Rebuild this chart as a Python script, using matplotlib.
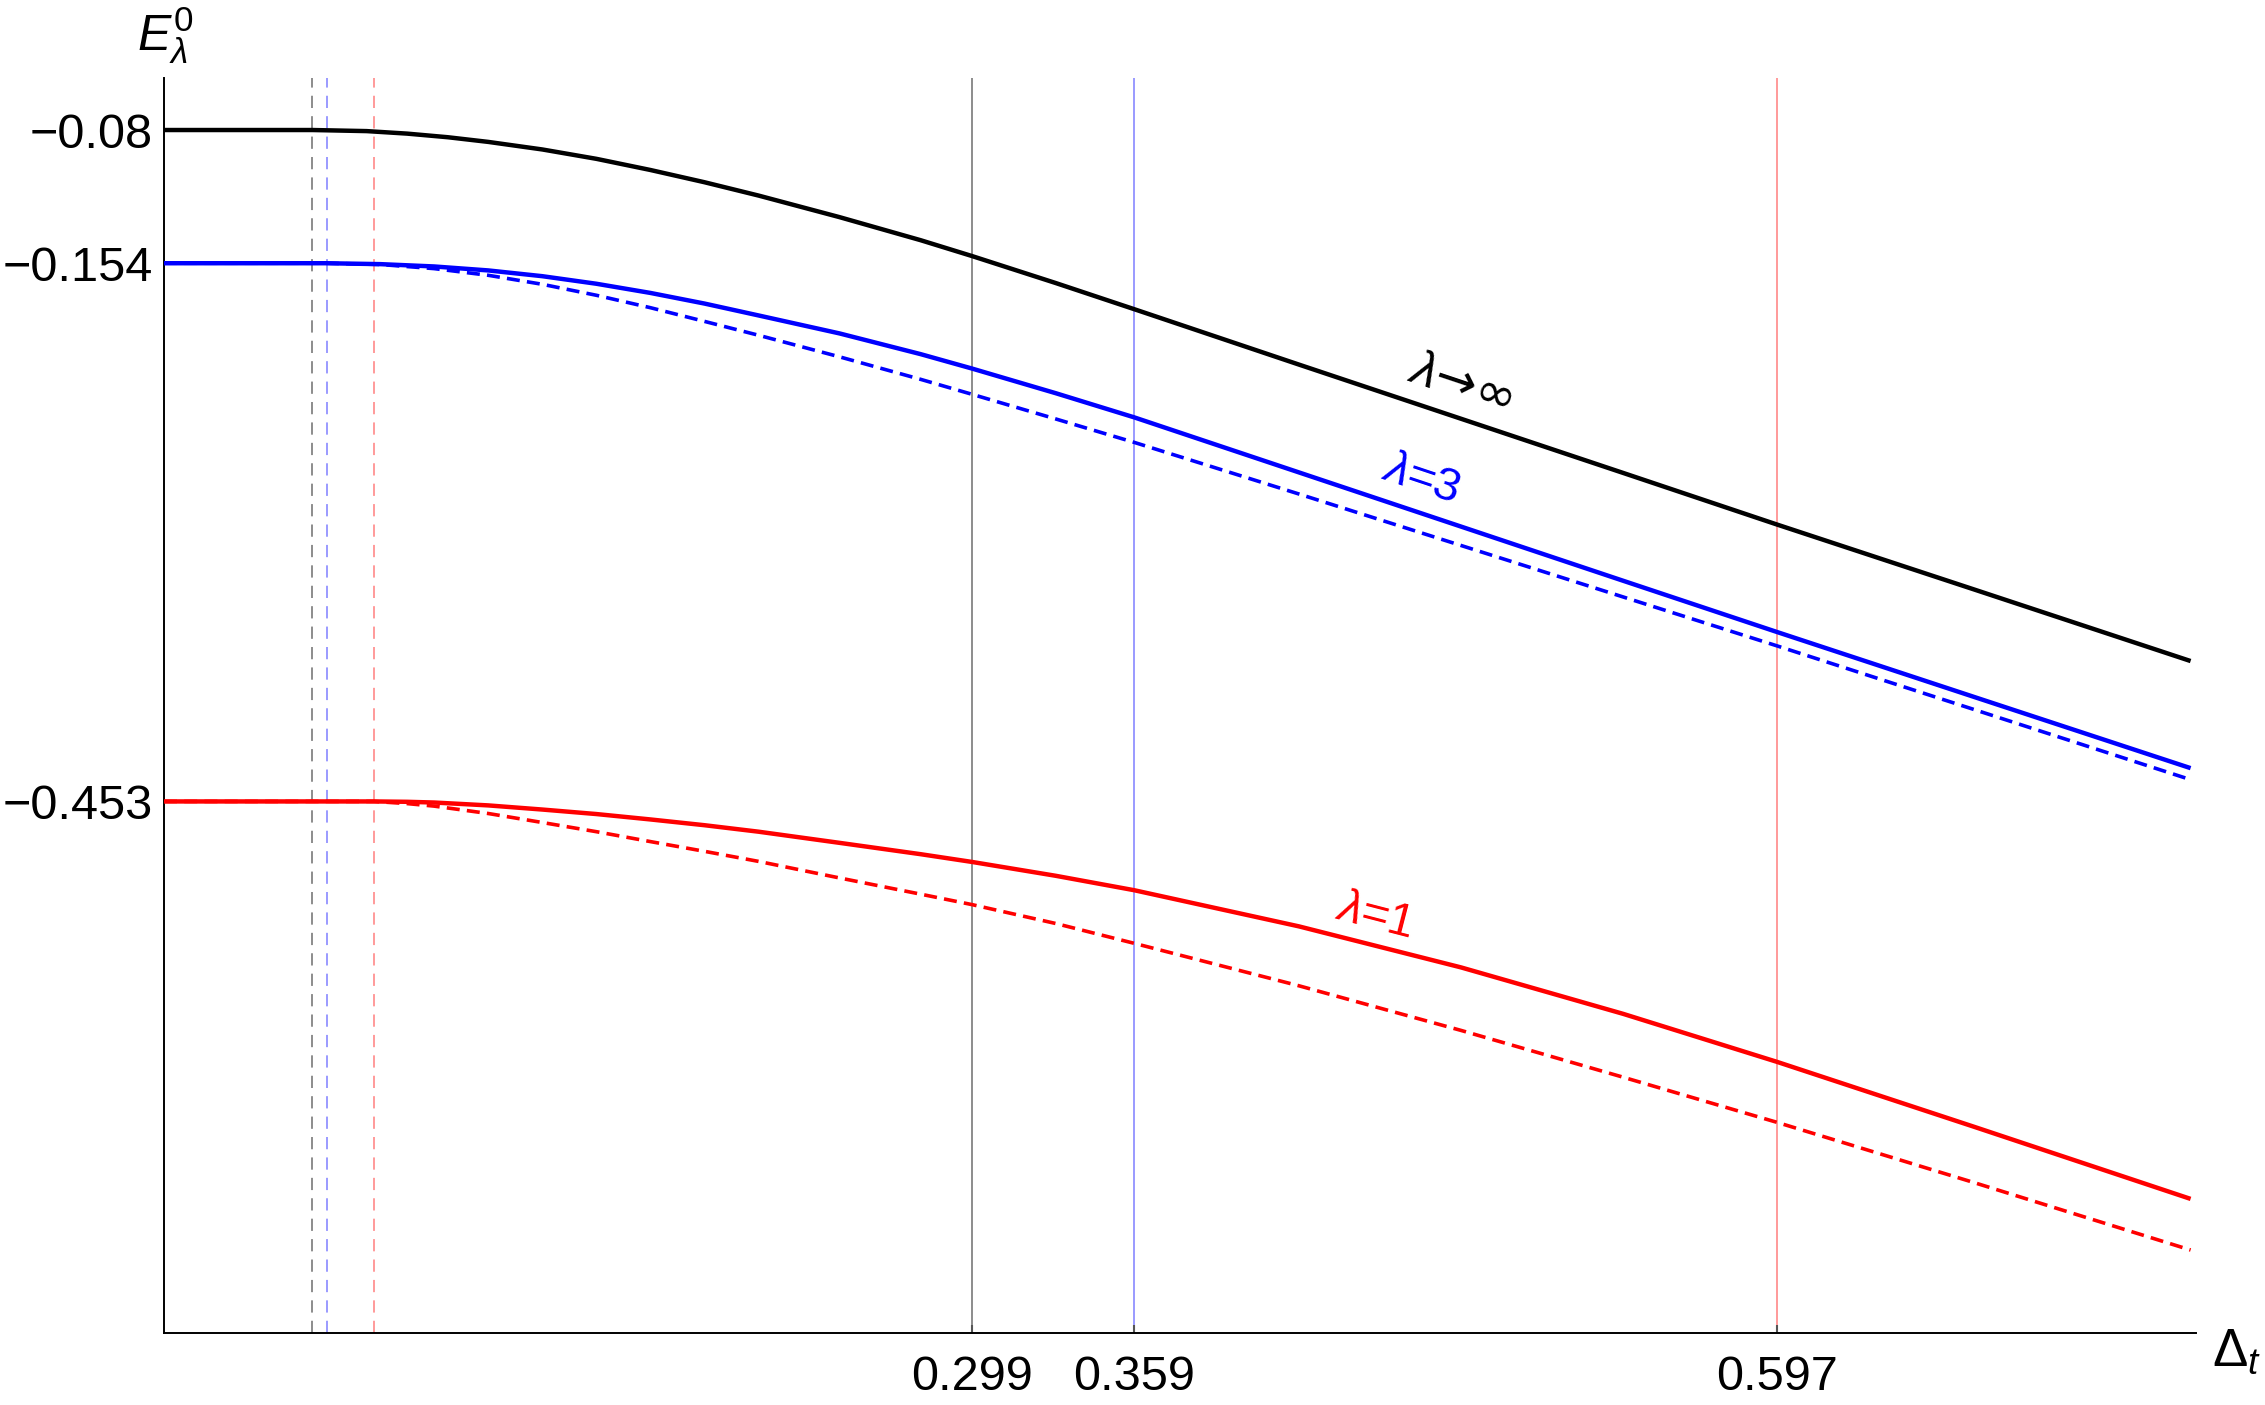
import matplotlib
matplotlib.use('Agg')
import matplotlib.pyplot as plt

plt.rcParams['font.family'] = ['Liberation Sans', 'DejaVu Sans']
plt.rcParams['mathtext.fontset'] = 'custom'
plt.rcParams['mathtext.rm'] = 'Liberation Sans'
plt.rcParams['mathtext.it'] = 'Liberation Sans:italic'
plt.rcParams['mathtext.bf'] = 'Liberation Sans:bold'

# ---------------- data ----------------
# lambda -> infinity (black, solid)
inf_x = [0.0, 0.055, 0.075, 0.09, 0.105, 0.12, 0.14, 0.16, 0.18, 0.20, 0.22, 0.25, 0.28, 0.299,
         0.33, 0.359, 0.42, 0.48, 0.54, 0.597, 0.67, 0.75]
inf_y = [-0.0800, -0.0800, -0.0806, -0.0820, -0.0840, -0.0866, -0.0908, -0.0960, -0.1022, -0.1090,
         -0.1164, -0.1284, -0.1412, -0.1500, -0.1650, -0.1795, -0.2103, -0.2404, -0.2705, -0.2992,
         -0.3353, -0.3750]

# lambda = 3 (blue): solid and dashed
l3_x = [0.0, 0.06, 0.08, 0.10, 0.12, 0.14, 0.16, 0.18, 0.20, 0.22, 0.25, 0.28, 0.299, 0.33, 0.359,
        0.42, 0.48, 0.54, 0.597, 0.67, 0.75]
l3_solid = [-0.1540, -0.1540, -0.1545, -0.1558, -0.1580, -0.1612, -0.1654, -0.1705, -0.1764, -0.1830,
            -0.1930, -0.2045, -0.2125, -0.2262, -0.2396, -0.2702, -0.3003, -0.3304, -0.3589, -0.3950,
            -0.4345]
l3_dashed = [-0.1540, -0.1540, -0.1547, -0.1570, -0.1607, -0.1657, -0.1718, -0.1787, -0.1863, -0.1940,
             -0.2060, -0.2185, -0.2268, -0.2405, -0.2535, -0.2822, -0.3108, -0.3394, -0.3666, -0.4020,
             -0.4409]

# lambda = 1 (red): solid and dashed
l1_x = [0.0, 0.0778, 0.09, 0.10, 0.12, 0.14, 0.16, 0.18, 0.20, 0.22, 0.25, 0.28, 0.299, 0.33, 0.359,
        0.42, 0.48, 0.54, 0.597, 0.67, 0.75]
l1_solid = [-0.4530, -0.4530, -0.4532, -0.4536, -0.4552, -0.4575, -0.4600, -0.4630, -0.4662, -0.4698,
            -0.4760, -0.4823, -0.4866, -0.4943, -0.5023, -0.5224, -0.5452, -0.5710, -0.5977, -0.6338,
            -0.6738]
l1_dashed = [-0.4530, -0.4530, -0.4542, -0.4556, -0.4597, -0.4647, -0.4698, -0.4753, -0.4807, -0.4863,
             -0.4955, -0.5045, -0.5103, -0.5208, -0.5318, -0.5554, -0.5802, -0.6062, -0.6313, -0.6648,
             -0.7022]

# critical points (dashed verticals) and transition points (solid verticals)
crit_dashed = [0.0549, 0.0602, 0.0778]
crit_solid = [0.299, 0.359, 0.597]
crit_colors = ['#8c8c8c', '#9a9aff', '#ff9a9a']

x_ticks = [0.299, 0.359, 0.597]
x_tick_labels = ['0.299', '0.359', '0.597']
y_ticks = [-0.08, -0.154, -0.453]
y_tick_labels = ['\u22120.08', '\u22120.154', '\u22120.453']

labels = ['$\\lambda$\u2192\u221e', '$\\lambda$=3', '$\\lambda$=1']
label_pos = [(0.4800, -0.2212), (0.4652, -0.2742), (0.4480, -0.5170)]
label_rot = [-18.5, -18.5, -14.5]
label_colors = ['#000000', '#0000ff', '#ff0000']
label_family = [['DejaVu Sans'], ['Liberation Sans'], ['Liberation Sans']]
label_size = [36, 34, 34]

# ---------------- figure ----------------
W, H = 2265, 1405
fig = plt.figure(figsize=(W / 100, H / 100), dpi=100)
left, right, top, bottom = 164, 2196, 78, 1333
ax = fig.add_axes([left / W, 1 - bottom / H, (right - left) / W, (bottom - top) / H])
ax.set_xlim(0, 0.752)
ax.set_ylim(-0.7483, -0.0511)

for xv, c in zip(crit_dashed, crit_colors):
    ax.axvline(xv, color=c, lw=1.4, dashes=(6.3, 4.2), zorder=1)
for xv, c in zip(crit_solid, crit_colors):
    ax.axvline(xv, color=c, lw=1.4, zorder=1)

ax.plot(inf_x, inf_y, color='#000000', lw=3.2, zorder=3, clip_on=False, solid_capstyle='butt')
ax.plot(l3_x, l3_solid, color='#0000ff', lw=3.2, zorder=3, clip_on=False, solid_capstyle='butt')
ax.plot(l3_x, l3_dashed, color='#0000ff', lw=2.6, dashes=(3.6, 2.0), zorder=2, clip_on=False)
ax.plot(l1_x, l1_solid, color='#ff0000', lw=3.2, zorder=3, clip_on=False, solid_capstyle='butt')
ax.plot(l1_x, l1_dashed, color='#ff0000', lw=2.6, dashes=(3.6, 2.0), zorder=2, clip_on=False)

for t, (xv, yv), r, c, fam, fs in zip(labels, label_pos, label_rot, label_colors, label_family,
                                      label_size):
    ax.text(xv, yv, t, color=c, fontsize=fs, rotation=r, ha='center', va='center',
            rotation_mode='anchor', family=fam)

for s in ['top', 'right']:
    ax.spines[s].set_visible(False)
for s in ['left', 'bottom']:
    ax.spines[s].set_linewidth(1.4)
    ax.spines[s].set_color('#000000')

ax.set_xticks(x_ticks)
ax.set_xticklabels(x_tick_labels)
ax.set_yticks(y_ticks)
ax.set_yticklabels(y_tick_labels)
ax.tick_params(axis='both', direction='in', length=6, width=1.5, color='#555555',
               labelsize=35, labelcolor='#000000')
ax.tick_params(axis='x', pad=16)
ax.tick_params(axis='y', pad=8)

fig.text(165 / W, 1 - 35 / H, '$E_{\\lambda}^{0}$', fontsize=36, ha='center', va='center')
fig.text(2212 / W, 1 - 1352 / H, '$\\Delta_t$', fontsize=38, ha='left', va='center')

fig.savefig('out.png', dpi=100, facecolor='white')
